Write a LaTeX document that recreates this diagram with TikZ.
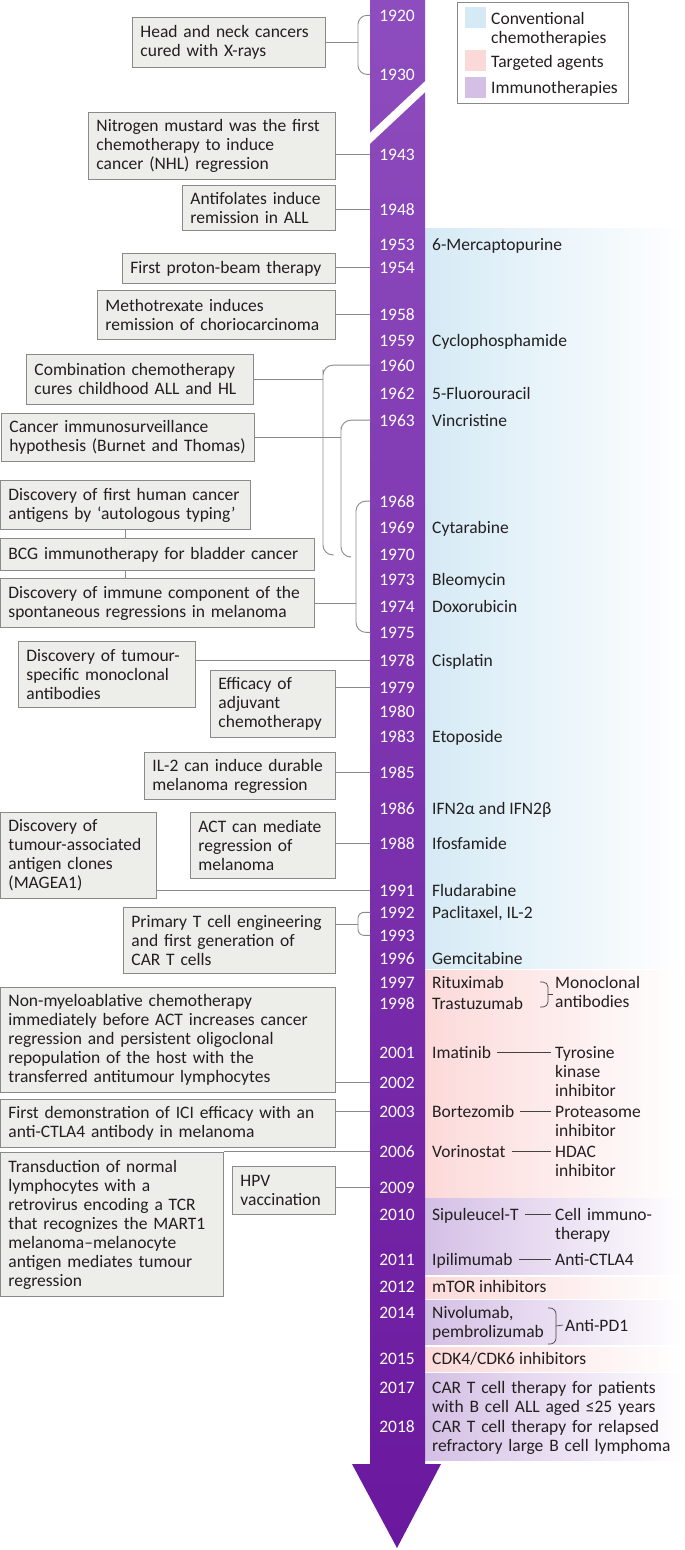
\documentclass[tikz,border=0pt]{standalone}
\usepackage{fontspec}
\setmainfont{Carlito}
\definecolor{barTop}{HTML}{8E4DBE}
\definecolor{barBot}{HTML}{6A189E}
\definecolor{boxFill}{HTML}{EDEDE9}
\definecolor{boxLine}{HTML}{8A8A8A}
\definecolor{chemoBlue}{HTML}{D5EAF5}
\definecolor{targPink}{HTML}{FCD9D9}
\definecolor{immLav}{HTML}{D4BFE5}
\definecolor{txt}{HTML}{231F20}

\begin{document}
\begin{tikzpicture}[x=1pt,y=-1pt,
  every node/.style={font=\fontsize{17.5}{19}\selectfont, text=txt},
  evbox/.style={draw=boxLine, fill=boxFill, line width=0.9pt, anchor=north west, align=left, inner xsep=8pt, inner ysep=4pt},
  yr/.style={text=white, anchor=base, yshift=-5pt, inner sep=1pt},
  drug/.style={anchor=base west, yshift=-5pt, inner sep=2pt, align=left},
  link/.style={draw=boxLine, line width=0.9pt},
  rlink/.style={draw=txt!85, line width=0.7pt},
  tielink/.style={rlink, shorten <=4pt, shorten >=2pt},
  band/.style={left color=#1, right color=white}]
\useasboundingbox (0,0) rectangle (685,1550);

% colour bands behind the drugs
\shade[band=chemoBlue] (425,228) rectangle (685,968);
\shade[band=targPink] (425,970) rectangle (685,1198);
\shade[band=immLav] (425,1198) rectangle (685,1274);
\shade[band=targPink] (425,1277) rectangle (685,1298);
\shade[band=immLav] (425,1300) rectangle (685,1344);
\shade[band=targPink] (425,1347) rectangle (685,1371);
\shade[band=immLav] (425,1373) rectangle (685,1460);

% time arrow
\shade[top color=barTop, bottom color=barBot] (370,0) -- (370,1464) -- (352,1464) -- (397,1548) -- (441,1464) -- (425,1464) -- (425,0) -- cycle;
\draw[white, line width=8pt] (366,142) -- (429,83);
\coordinate (barL) at (370,0);

% legend
\node[draw=boxLine, fill=white, line width=0.9pt, minimum width=171, minimum height=101, anchor=north west] (leg) at (457,2) {};
\fill[chemoBlue] (465,7) rectangle (486,28);
\fill[targPink] (465,50) rectangle (486,71);
\fill[immLav] (465,77) rectangle (486,98);
\node[drug, text width=130] (legc) at (489,19) {Conventional\\chemotherapies};
\node[drug] (legt) at (489,62) {Targeted agents};
\node[drug] (legi) at (489,88) {Immunotherapies};

\node[yr] (y1920) at (397,16) {1920};
\node[yr] (y1930) at (397,75) {1930};
\node[yr] (y1943) at (397,155) {1943};
\node[yr] (y1948) at (397,210) {1948};
\node[yr] (y1953) at (397,245) {1953};
\node[yr] (y1954) at (397,268) {1954};
\node[yr] (y1958) at (397,315) {1958};
\node[yr] (y1959) at (397,341) {1959};
\node[yr] (y1960) at (397,366) {1960};
\node[yr] (y1962) at (397,394) {1962};
\node[yr] (y1963) at (397,421) {1963};
\node[yr] (y1968) at (397,502) {1968};
\node[yr] (y1969) at (397,528) {1969};
\node[yr] (y1970) at (397,555) {1970};
\node[yr] (y1973) at (397,580) {1973};
\node[yr] (y1974) at (397,607) {1974};
\node[yr] (y1975) at (397,633) {1975};
\node[yr] (y1978) at (397,661) {1978};
\node[yr] (y1979) at (397,688) {1979};
\node[yr] (y1980) at (397,712) {1980};
\node[yr] (y1983) at (397,737) {1983};
\node[yr] (y1985) at (397,773) {1985};
\node[yr] (y1986) at (397,809) {1986};
\node[yr] (y1988) at (397,844) {1988};
\node[yr] (y1991) at (397,891) {1991};
\node[yr] (y1992) at (397,913) {1992};
\node[yr] (y1993) at (397,936) {1993};
\node[yr] (y1996) at (397,959) {1996};
\node[yr] (y1997) at (397,983) {1997};
\node[yr] (y1998) at (397,1004) {1998};
\node[yr] (y2001) at (397,1053) {2001};
\node[yr] (y2002) at (397,1083) {2002};
\node[yr] (y2003) at (397,1112) {2003};
\node[yr] (y2006) at (397,1152) {2006};
\node[yr] (y2009) at (397,1188) {2009};
\node[yr] (y2010) at (397,1215) {2010};
\node[yr] (y2011) at (397,1260) {2011};
\node[yr] (y2012) at (397,1287) {2012};
\node[yr] (y2014) at (397,1313) {2014};
\node[yr] (y2015) at (397,1359) {2015};
\node[yr] (y2017) at (397,1388) {2017};
\node[yr] (y2018) at (397,1427) {2018};

% drugs
\node[drug] (d1953) at (430,245) {6-Mercaptopurine};
\node[drug] (d1959) at (430,341) {Cyclophosphamide};
\node[drug] (d1962) at (430,394) {5-Fluorouracil};
\node[drug] (d1963) at (430,421) {Vincristine};
\node[drug] (d1969) at (430,528) {Cytarabine};
\node[drug] (d1973) at (430,580) {Bleomycin};
\node[drug] (d1974) at (430,607) {Doxorubicin};
\node[drug] (d1978) at (430,661) {Cisplatin};
\node[drug] (d1983) at (430,737) {Etoposide};
\node[drug] (d1986) at (430,809) {IFN2α and IFN2β};
\node[drug] (d1988) at (430,844) {Ifosfamide};
\node[drug] (d1991) at (430,891) {Fludarabine};
\node[drug] (d1992) at (430,913) {Paclitaxel, IL-2};
\node[drug] (d1996) at (430,959) {Gemcitabine};
\node[drug] (d1997) at (430,983) {Rituximab};
\node[drug] (d1998) at (430,1004) {Trastuzumab};
\node[drug] (d2001) at (430,1053) {Imatinib};
\node[drug] (d2003) at (430,1112) {Bortezomib};
\node[drug] (d2006) at (430,1152) {Vorinostat};
\node[drug] (d2010) at (430,1215) {Sipuleucel-T};
\node[drug] (d2011) at (430,1260) {Ipilimumab};
\node[drug] (d2012) at (430,1287) {mTOR inhibitors};
\node[drug, text width=120] (d2014) at (430,1313) {Nivolumab,\\pembrolizumab};
\node[drug] (d2015) at (430,1359) {CDK4/CDK6 inhibitors};
\node[drug, text width=250] (d2017) at (430,1388) {CAR T cell therapy for patients\\with B cell ALL aged ≤25 years};
\node[drug, text width=250] (d2018) at (430,1427) {CAR T cell therapy for relapsed\\refractory large B cell lymphoma};

\node[drug, text width=120] (mono) at (553,983) {Monoclonal\\antibodies};
\node[drug, text width=120] (tki) at (553,1053) {Tyrosine\\kinase\\inhibitor};
\node[drug, text width=120] (prot) at (553,1112) {Proteasome\\inhibitor};
\node[drug, text width=120] (hdac) at (553,1152) {HDAC\\inhibitor};
\node[drug, text width=120] (cimm) at (553,1215) {Cell immuno-\\therapy};
\node[drug] (ctla) at (553,1260) {Anti-CTLA4};
\node[drug] (pd1) at (563,1326) {Anti-PD1};

\draw[rlink, rounded corners=5pt] (540,982) -| (548,994) |- (540,1007);
\draw[rlink] (548,994) -- (mono.west |- 548,994);
\draw[tielink] (d2001.east |- y2001) -- (tki.west |- y2001);
\draw[tielink] (d2003.east |- y2003) -- (prot.west |- y2003);
\draw[tielink] (d2006.east |- y2006) -- (hdac.west |- y2006);
\draw[tielink] (d2010.east |- y2010) -- (cimm.west |- y2010);
\draw[tielink] (d2011.east |- y2011) -- (ctla.west |- y2011);
\draw[rlink, rounded corners=6pt] (548,1308) -| (556,1326) |- (548,1344);
\draw[rlink] (556,1326) -- (pd1.west);

% events
\node[evbox, text width=177, minimum height=50] (xray) at (132,17) {Head and neck cancers\\cured with X-rays};
\node[evbox, text width=231, minimum height=67] (nitro) at (88,112) {Nitrogen mustard was the first\\chemotherapy to induce\\cancer (NHL) regression};
\node[evbox, text width=137, minimum height=45] (antifol) at (182,185) {Antifolates induce\\remission in ALL};
\node[evbox, text width=197, minimum height=30] (proton) at (122,253) {First proton-beam therapy};
\node[evbox, text width=222, minimum height=49] (mtx) at (97,290) {Methotrexate induces\\remission of choriocarcinoma};
\node[evbox, text width=211, minimum height=50] (combo) at (26,354) {Combination chemotherapy\\cures childhood ALL and HL};
\node[evbox, text width=237, minimum height=48] (surv) at (1,413) {Cancer immunosurveillance\\hypothesis (Burnet and Thomas)};
\node[evbox, text width=234, minimum height=49] (autol) at (0,480) {Discovery of first human cancer\\antigens by ‘autologous typing’};
\node[evbox, text width=298, minimum height=32] (bcg) at (0,538) {BCG immunotherapy for bladder cancer};
\node[evbox, text width=298, minimum height=49] (spont) at (0,578) {Discovery of immune component of the\\spontaneous regressions in melanoma};
\node[evbox, text width=161, minimum height=66] (tumab) at (18,641) {Discovery of tumour-\\specific monoclonal\\antibodies};
\node[evbox, text width=109, minimum height=67] (adjuv) at (210,670) {Efficacy of\\adjuvant\\chemotherapy};
\node[evbox, text width=175, minimum height=47] (il2) at (144,752) {IL-2 can induce durable\\melanoma regression};
\node[evbox, text width=140, minimum height=86] (magea) at (0,812) {Discovery of\\tumour-associated\\antigen clones\\(MAGEA1)};
\node[evbox, text width=129, minimum height=66] (actm) at (190,812) {ACT can mediate\\regression of\\melanoma};
\node[evbox, text width=196, minimum height=66] (cart) at (123,907) {Primary T cell engineering\\and first generation of\\CAR T cells};
\node[evbox, text width=319, minimum height=105] (nma) at (0,987) {Non-myeloablative chemotherapy\\immediately before ACT increases cancer\\regression and persistent oligoclonal\\repopulation of the host with the\\transferred antitumour lymphocytes};
\node[evbox, text width=319, minimum height=48] (ici) at (0,1099) {First demonstration of ICI efficacy with an\\anti-CTLA4 antibody in melanoma};
\node[evbox, text width=207, minimum height=144] (transd) at (0,1152) {Transduction of normal\\lymphocytes with a\\retrovirus encoding a TCR\\that recognizes the MART1\\melanoma–melanocyte\\antigen mediates tumour\\regression};
\node[evbox, text width=87, minimum height=48] (hpv) at (232,1166) {HPV\\vaccination};

\coordinate (spA) at (323,0);
\coordinate (spB) at (341,0);
\coordinate (spC) at (356,0);
\coordinate (spD) at (358,0);
\coordinate (cartM) at (358,924);

\draw[link, rounded corners=9pt] (barL |- y1920) -| (spD |- xray.east) |- (barL |- y1930);
\draw[link] (xray.east) -- (spD |- xray.east);
\draw[link] (nitro.east |- y1943) -- (barL |- y1943);
\draw[link] (antifol.east |- y1948) -- (barL |- y1948);
\draw[link] (proton.east |- y1954) -- (barL |- y1954);
\draw[link] (mtx.east |- y1958) -- (barL |- y1958);
\draw[link, rounded corners=10pt] (barL |- y1960) -| (spA |- combo.east) |- (334,555);
\draw[link] (combo.east) -- (spA |- combo.east);
\draw[link, rounded corners=10pt] (barL |- y1963) -| (spB |- surv.east) |- (349,557);
\draw[link] (surv.east) -- (spB |- surv.east);
\draw[link] (autol.south) -- (autol.south |- bcg.north);
\draw[link] (autol.south |- bcg.south) -- (autol.south |- spont.north);
\draw[link, rounded corners=10pt] (barL |- y1968) -| (spC |- spont.east) |- (barL |- y1975);
\draw[link] (spont.east) -- (spC |- spont.east);
\draw[link] (tumab.east |- y1978) -- (barL |- y1978);
\draw[link] (adjuv.east |- y1979) -- (barL |- y1979);
\draw[link] (il2.east |- y1985) -- (barL |- y1985);
\draw[link] (actm.east |- y1988) -- (barL |- y1988);
\draw[link] (magea.east |- y1991) -- (barL |- y1991);
\draw[link, rounded corners=6pt] (barL |- y1992) -| (cartM) |- (barL |- y1993);
\draw[link] (cartM -| cart.east) -- (cartM);
\draw[link] (nma.east |- y2002) -- (barL |- y2002);
\draw[link] (ici.east |- y2003) -- (barL |- y2003);
\draw[link] (transd.north east |- y2006) -- (barL |- y2006);
\draw[link] (hpv.east |- y2009) -- (barL |- y2009);
\end{tikzpicture}
\end{document}
